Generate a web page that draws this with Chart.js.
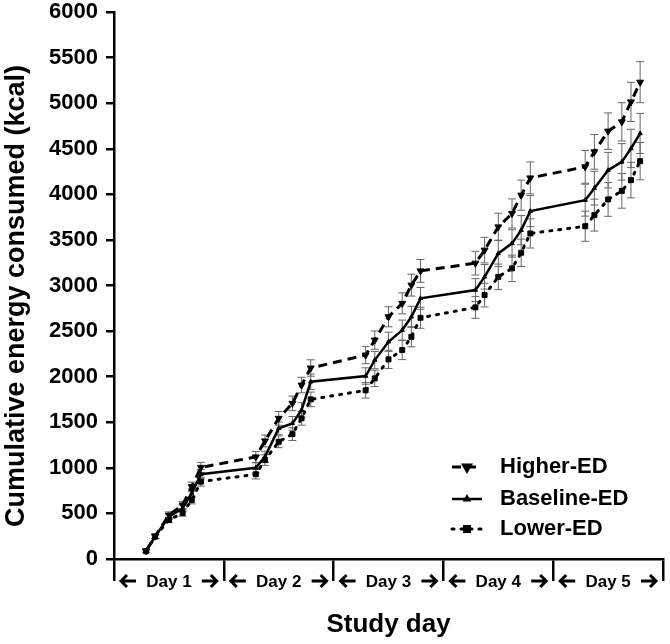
<!DOCTYPE html>
<html>
<head>
<meta charset="utf-8">
<script src="https://cdn.jsdelivr.net/npm/chart.js@4.4.0/dist/chart.umd.min.js"></script>
<style>
html, body { margin: 0; padding: 0; background: #fff; }
</style>
</head>
<body>
<canvas id="energyChart" width="670" height="644"></canvas>
<script>
// Study hours of each eating occasion (6 per day, 5 days)
const hours = [7, 9, 12, 15, 17, 19,
               31, 33, 36, 39, 41, 43,
               55, 57, 60, 63, 65, 67,
               79, 81, 84, 87, 89, 91,
               103, 105, 108, 111, 113, 115];

const dayLabels = ['Day 1', 'Day 2', 'Day 3', 'Day 4', 'Day 5'];
const dayTicks = [0, 24, 48, 72, 96, 120];
const yTitle = 'Cumulative energy consumed (kcal)';

const higherED = [90, 250, 482, 592, 793, 1005,
                  1120, 1295, 1543, 1707, 1908, 2095,
                  2237, 2401, 2657, 2804, 3004, 3160,
                  3245, 3388, 3643, 3790, 3991, 4180,
                  4302, 4466, 4693, 4795, 5014, 5230];
const baselineED = [88, 248, 464, 556, 723, 930,
                    1000, 1122, 1433, 1488, 1634, 1944,
                    2007, 2182, 2383, 2511, 2657, 2859,
                    2950, 3095, 3352, 3462, 3607, 3816,
                    3936, 4068, 4265, 4356, 4503, 4668];
const lowerED = [85, 245, 428, 504, 647, 848,
                 930, 1085, 1286, 1370, 1543, 1751,
                 1850, 1981, 2190, 2292, 2437, 2646,
                 2760, 2895, 3095, 3188, 3359, 3571,
                 3650, 3772, 3944, 4038, 4156, 4364];

// SEM bars
const higherErr = [15, 25, 35, 40, 50, 55,
                   60, 65, 75, 80, 85, 90,
                   95, 100, 110, 115, 120, 125,
                   130, 140, 150, 160, 165, 175,
                   180, 190, 200, 210, 215, 225];
const baselineErr = [15, 22, 32, 38, 45, 50,
                     55, 60, 70, 75, 80, 85,
                     90, 95, 105, 110, 115, 120,
                     125, 135, 145, 150, 160, 170,
                     175, 185, 195, 200, 210, 220];
const lowerErr = [14, 20, 30, 35, 42, 48,
                  52, 58, 65, 70, 75, 80,
                  85, 90, 100, 105, 110, 115,
                  120, 130, 140, 145, 150, 160,
                  165, 175, 185, 190, 195, 205];

function toPoints(vals) {
    return vals.map((v, i) => ({ x: hours[i], y: v }));
}

const errorBars = {
    id: 'errorBars',
    beforeDatasetsDraw(chart) {
        const ctx = chart.ctx;
        const xs = chart.scales.x, ys = chart.scales.y;
        ctx.save();
        ctx.strokeStyle = '#666';
        ctx.lineWidth = 1;
        chart.data.datasets.forEach(ds => {
            ds.data.forEach((p, i) => {
                const x = xs.getPixelForValue(p.x);
                const top = ys.getPixelForValue(p.y + ds.err[i]);
                const bot = ys.getPixelForValue(p.y - ds.err[i]);
                ctx.beginPath();
                ctx.moveTo(x, top); ctx.lineTo(x, bot);
                ctx.moveTo(x - 4, top); ctx.lineTo(x + 4, top);
                ctx.moveTo(x - 4, bot); ctx.lineTo(x + 4, bot);
                ctx.stroke();
            });
        });
        ctx.restore();
    }
};

// bold arrow like the ones round each day label
function arrow(ctx, x, y, dir) {
    const len = 15, head = 6;
    const tip = x + dir * len;
    ctx.beginPath();
    ctx.moveTo(x, y); ctx.lineTo(tip - dir * 2, y);
    ctx.moveTo(tip - dir * head, y - head); ctx.lineTo(tip, y); ctx.lineTo(tip - dir * head, y + head);
    ctx.stroke();
}

const dayAxis = {
    id: 'dayAxis',
    afterDraw(chart) {
        const ctx = chart.ctx;
        const xs = chart.scales.x;
        const y = chart.chartArea.bottom + 22;
        ctx.save();
        ctx.fillStyle = '#000';
        ctx.strokeStyle = '#000';
        ctx.lineWidth = 3;
        ctx.lineJoin = 'miter';
        ctx.font = 'bold 17px "Liberation Sans", Arial, sans-serif';
        ctx.textBaseline = 'middle';
        ctx.textAlign = 'center';
        dayLabels.forEach((lab, i) => {
            const x0 = xs.getPixelForValue(dayTicks[i]);
            const x1 = xs.getPixelForValue(dayTicks[i + 1]);
            ctx.fillText(lab, (x0 + x1) / 2, y + 1);
            arrow(ctx, x0 + 22, y, -1);
            arrow(ctx, x1 - 22, y, 1);
        });
        // y axis title, placed a little below the plot centre as in the original
        ctx.translate(17, 296);
        ctx.rotate(-Math.PI / 2);
        ctx.font = 'bold 27px "Liberation Sans", Arial, sans-serif';
        ctx.fillText(yTitle, 0, 0);
        ctx.restore();
    }
};

const insideLegend = {
    id: 'insideLegend',
    afterDraw(chart) {
        const ctx = chart.ctx;
        const rows = [467, 499, 529];
        ctx.save();
        chart.data.datasets.forEach((ds, i) => {
            const y = rows[i];
            ctx.strokeStyle = '#000';
            ctx.lineWidth = ds.borderWidth;
            ctx.setLineDash(ds.borderDash || []);
            ctx.lineCap = ds.borderCapStyle || 'butt';
            ctx.beginPath();
            ctx.moveTo(452, y); ctx.lineTo(482, y);
            ctx.stroke();
            ctx.setLineDash([]);
            ctx.fillStyle = '#000';
            Chart.helpers.drawPoint(ctx, {
                pointStyle: ds.pointStyle,
                rotation: ds.pointRotation || 0,
                radius: ds.pointRadius,
                borderWidth: 1
            }, 467, y);
            ctx.font = 'bold 22px "Liberation Sans", Arial, sans-serif';
            ctx.textBaseline = 'middle';
            ctx.textAlign = 'left';
            ctx.fillText(ds.label, 500, y);
        });
        ctx.restore();
    }
};

const ctx = document.getElementById('energyChart').getContext('2d');
new Chart(ctx, {
    type: 'line',
    data: {
        datasets: [{
            label: 'Higher-ED',
            data: toPoints(higherED),
            err: higherErr,
            borderColor: '#000',
            backgroundColor: '#000',
            borderWidth: 3,
            borderDash: [9, 6],
            pointStyle: 'triangle',
            pointRotation: 180,
            pointRadius: 4,
            pointBorderWidth: 1
        }, {
            label: 'Baseline-ED',
            data: toPoints(baselineED),
            err: baselineErr,
            borderColor: '#000',
            backgroundColor: '#000',
            borderWidth: 2.5,
            pointStyle: 'triangle',
            pointRadius: 2.5,
            pointBorderWidth: 1
        }, {
            label: 'Lower-ED',
            data: toPoints(lowerED),
            err: lowerErr,
            borderColor: '#000',
            backgroundColor: '#000',
            borderWidth: 3,
            borderDash: [2, 7],
            borderCapStyle: 'round',
            pointStyle: 'rect',
            pointRadius: 3.5,
            pointBorderWidth: 1
        }]
    },
    options: {
        responsive: false,
        animation: false,
        layout: { padding: { left: 0, right: 7, top: 12, bottom: 0 } },
        plugins: {
            legend: { display: false },
            tooltip: { enabled: false }
        },
        scales: {
            x: {
                type: 'linear',
                min: 0,
                max: 120,
                afterFit: s => { s.height = 85; s.paddingLeft = 0; s.paddingRight = 0; },
                afterBuildTicks: s => { s.ticks = dayTicks.map(v => ({ value: v })); },
                ticks: { callback: () => '', font: { size: 1 } },
                grid: { drawOnChartArea: false, tickLength: 22, color: '#000', lineWidth: 2.5 },
                border: { color: '#000', width: 2.5 },
                title: {
                    display: true,
                    text: 'Study day',
                    color: '#000',
                    font: { family: '"Liberation Sans", Arial, sans-serif', size: 26, weight: 'bold' },
                    padding: { top: 0, bottom: 4 }
                }
            },
            y: {
                min: 0,
                max: 6000,
                afterFit: s => { s.width = 114; s.paddingTop = 0; s.paddingBottom = 0; },
                ticks: {
                    stepSize: 500,
                    color: '#000',
                    padding: 8,
                    callback: v => String(v),
                    font: { family: '"Liberation Sans", Arial, sans-serif', size: 22, weight: 'bold' }
                },
                grid: { drawOnChartArea: false, tickLength: 8, color: '#000', lineWidth: 2.5 },
                border: { color: '#000', width: 2.5 },
                title: { display: false }
            }
        }
    },
    plugins: [errorBars, dayAxis, insideLegend]
});
</script>
</body>
</html>
